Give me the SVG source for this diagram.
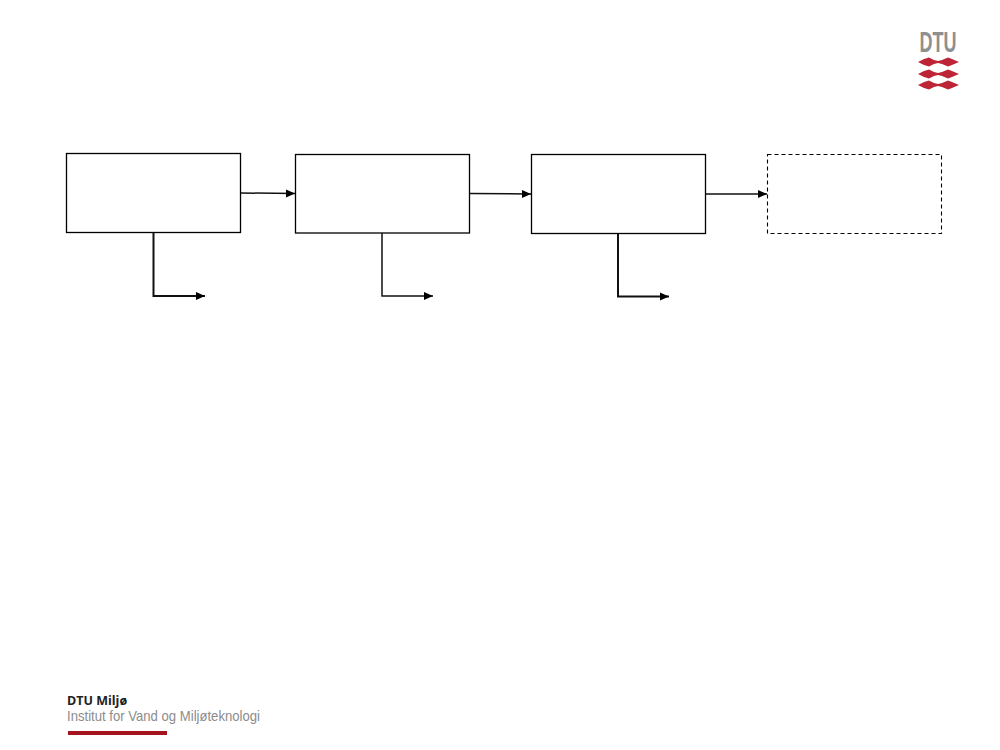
<svg xmlns="http://www.w3.org/2000/svg" width="1000" height="750" viewBox="0 0 1000 750">
<style>
.box{fill:#fff;stroke:#000;stroke-width:1.3}
.dash{fill:#fff;stroke:#000;stroke-width:1.1;stroke-dasharray:4 3}
.c{fill:none;stroke:#111;stroke-width:1.5}
.t{stroke-width:2}
.red{fill:#bd2436}
</style>
<defs>
<marker id="a" markerUnits="userSpaceOnUse" markerWidth="10" markerHeight="10" refX="9" refY="5" orient="auto"><path d="M0 1L9 5L0 9Z" fill="#000"/></marker>
<g id="w"><path class="red" d="M0 0L6 -3L11 -4.500L16 -2L20 -1L24 -2L30 -4.500L34 -3L41 0L34 3L30 4.500L24 2L20 1L16 2L11 4.500L6 3Z"/></g>
</defs>
<rect width="1000" height="750" fill="#fff"/>
<g id="n1"><rect class="box" x="66.500" y="153.500" width="174" height="79"/></g>
<g id="n2"><rect class="box" x="295.500" y="154.500" width="174" height="78.500"/></g>
<g id="n3"><rect class="box" x="531.500" y="154.500" width="174" height="79"/></g>
<g id="n4"><rect class="dash" x="767.500" y="154.500" width="174" height="79"/></g>
<g id="connectors">
<path class="c" d="M241 193L295 193.500" marker-end="url(#a)"/>
<path class="c" d="M470 193.500L531 194" marker-end="url(#a)"/>
<path class="c" d="M706 194L767 194" marker-end="url(#a)"/>
<path class="c t" d="M153.500 233V296H205" marker-end="url(#a)"/>
<path class="c" d="M382 233V296H433" marker-end="url(#a)"/>
<path class="c t" d="M618 234V296.500H669" marker-end="url(#a)"/>
</g>
<g id="logo">
<text x="938" y="52" text-anchor="middle" font-family="'Liberation Sans Narrow','Liberation Sans',sans-serif" font-size="30" font-weight="700" fill="#8f8f8f" textLength="37" lengthAdjust="spacingAndGlyphs">DTU</text>
<use href="#w" x="918" y="62"/>
<use href="#w" x="918" y="74"/>
<use href="#w" x="918" y="85"/>
</g>
<g id="footer">
<text x="67" y="705" font-family="'Open Sans','Liberation Sans',sans-serif" font-size="12.500" font-weight="700" fill="#222">DTU Miljø</text>
<text x="67" y="721" font-family="'Liberation Sans Narrow','Liberation Sans',sans-serif" font-size="15" fill="#8c8c8c" textLength="193" lengthAdjust="spacingAndGlyphs">Institut for Vand og Miljøteknologi</text>
<rect x="68" y="731" width="99" height="4" fill="#a3141e"/>
</g>
</svg>
